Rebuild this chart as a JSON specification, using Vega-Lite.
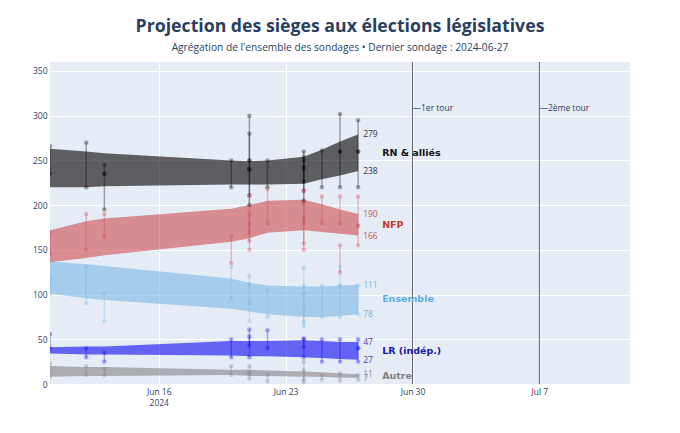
{
  "$schema": "https://vega.github.io/schema/vega-lite/v6.json",
  "width": 580,
  "height": 322,
  "autosize": {"type": "none"},
  "padding": {"left": 50, "top": 62, "right": 50, "bottom": 49},
  "background": "white",
  "title": {
    "text": "Projection des sièges aux élections législatives",
    "subtitle": "Agrégation de l'ensemble des sondages • Dernier sondage : 2024-06-27",
    "font": "Open Sans",
    "fontSize": 17.7,
    "fontWeight": "bold",
    "color": "#2a3f5f",
    "subtitleFont": "Open Sans",
    "subtitleFontSize": 10.2,
    "subtitleColor": "#2a3f5f",
    "subtitlePadding": 8,
    "anchor": "middle",
    "offset": 8
  },
  "config": {
    "view": {"fill": "#E5ECF6", "stroke": null},
    "axis": {
      "domain": false,
      "ticks": false,
      "gridColor": "white",
      "gridWidth": 1,
      "labelColor": "#2a3f5f",
      "labelFont": "Open Sans",
      "labelFontSize": 8.5
    }
  },
  "resolve": {"scale": {"color": "independent"}},
  "datasets": {
    "bands": [
      {"date": "2024-06-10", "party": "RN & alliés", "lo": 220, "hi": 263},
      {"date": "2024-06-12", "party": "RN & alliés", "lo": 220, "hi": 260},
      {"date": "2024-06-13", "party": "RN & alliés", "lo": 221, "hi": 258},
      {"date": "2024-06-20", "party": "RN & alliés", "lo": 223, "hi": 250},
      {"date": "2024-06-21", "party": "RN & alliés", "lo": 223, "hi": 249},
      {"date": "2024-06-22", "party": "RN & alliés", "lo": 223, "hi": 250},
      {"date": "2024-06-24", "party": "RN & alliés", "lo": 224, "hi": 254},
      {"date": "2024-06-25", "party": "RN & alliés", "lo": 229, "hi": 262},
      {"date": "2024-06-26", "party": "RN & alliés", "lo": 233, "hi": 271},
      {"date": "2024-06-27", "party": "RN & alliés", "lo": 238, "hi": 279},
      {"date": "2024-06-10", "party": "NFP", "lo": 136, "hi": 172},
      {"date": "2024-06-12", "party": "NFP", "lo": 141, "hi": 182},
      {"date": "2024-06-13", "party": "NFP", "lo": 144, "hi": 185},
      {"date": "2024-06-20", "party": "NFP", "lo": 159, "hi": 196},
      {"date": "2024-06-21", "party": "NFP", "lo": 163, "hi": 200},
      {"date": "2024-06-22", "party": "NFP", "lo": 169, "hi": 205},
      {"date": "2024-06-24", "party": "NFP", "lo": 172, "hi": 206},
      {"date": "2024-06-25", "party": "NFP", "lo": 170, "hi": 201},
      {"date": "2024-06-26", "party": "NFP", "lo": 168, "hi": 195},
      {"date": "2024-06-27", "party": "NFP", "lo": 166, "hi": 190},
      {"date": "2024-06-10", "party": "Ensemble", "lo": 101, "hi": 137},
      {"date": "2024-06-12", "party": "Ensemble", "lo": 96, "hi": 134},
      {"date": "2024-06-13", "party": "Ensemble", "lo": 94, "hi": 132},
      {"date": "2024-06-20", "party": "Ensemble", "lo": 84, "hi": 118},
      {"date": "2024-06-21", "party": "Ensemble", "lo": 81, "hi": 113},
      {"date": "2024-06-22", "party": "Ensemble", "lo": 78, "hi": 110},
      {"date": "2024-06-24", "party": "Ensemble", "lo": 75, "hi": 109},
      {"date": "2024-06-25", "party": "Ensemble", "lo": 75, "hi": 109},
      {"date": "2024-06-26", "party": "Ensemble", "lo": 76, "hi": 110},
      {"date": "2024-06-27", "party": "Ensemble", "lo": 78, "hi": 111},
      {"date": "2024-06-10", "party": "LR (indép.)", "lo": 34, "hi": 41},
      {"date": "2024-06-12", "party": "LR (indép.)", "lo": 33, "hi": 42},
      {"date": "2024-06-13", "party": "LR (indép.)", "lo": 33, "hi": 42},
      {"date": "2024-06-20", "party": "LR (indép.)", "lo": 32, "hi": 48},
      {"date": "2024-06-21", "party": "LR (indép.)", "lo": 31, "hi": 48},
      {"date": "2024-06-22", "party": "LR (indép.)", "lo": 31, "hi": 48},
      {"date": "2024-06-24", "party": "LR (indép.)", "lo": 30, "hi": 49},
      {"date": "2024-06-25", "party": "LR (indép.)", "lo": 29, "hi": 48},
      {"date": "2024-06-26", "party": "LR (indép.)", "lo": 28, "hi": 47},
      {"date": "2024-06-27", "party": "LR (indép.)", "lo": 27, "hi": 47},
      {"date": "2024-06-10", "party": "Autre", "lo": 8, "hi": 20},
      {"date": "2024-06-12", "party": "Autre", "lo": 9, "hi": 19},
      {"date": "2024-06-13", "party": "Autre", "lo": 9, "hi": 19},
      {"date": "2024-06-20", "party": "Autre", "lo": 10, "hi": 16},
      {"date": "2024-06-21", "party": "Autre", "lo": 9, "hi": 16},
      {"date": "2024-06-22", "party": "Autre", "lo": 9, "hi": 15},
      {"date": "2024-06-24", "party": "Autre", "lo": 8, "hi": 14},
      {"date": "2024-06-25", "party": "Autre", "lo": 8, "hi": 13},
      {"date": "2024-06-26", "party": "Autre", "lo": 7, "hi": 12},
      {"date": "2024-06-27", "party": "Autre", "lo": 7, "hi": 11}
    ],
    "polls": [
      {"date": "2024-06-10", "party": "RN & alliés", "lo": 235, "hi": 266},
      {"date": "2024-06-12", "party": "RN & alliés", "lo": 220, "hi": 270},
      {"date": "2024-06-13", "party": "RN & alliés", "lo": 195, "hi": 245},
      {"date": "2024-06-13", "party": "RN & alliés", "lo": 235, "hi": 235},
      {"date": "2024-06-20", "party": "RN & alliés", "lo": 220, "hi": 250},
      {"date": "2024-06-21", "party": "RN & alliés", "lo": 250, "hi": 300},
      {"date": "2024-06-21", "party": "RN & alliés", "lo": 240, "hi": 280},
      {"date": "2024-06-21", "party": "RN & alliés", "lo": 200, "hi": 250},
      {"date": "2024-06-21", "party": "RN & alliés", "lo": 211, "hi": 240},
      {"date": "2024-06-22", "party": "RN & alliés", "lo": 220, "hi": 250},
      {"date": "2024-06-24", "party": "RN & alliés", "lo": 216, "hi": 260},
      {"date": "2024-06-24", "party": "RN & alliés", "lo": 226, "hi": 250},
      {"date": "2024-06-24", "party": "RN & alliés", "lo": 205, "hi": 243},
      {"date": "2024-06-24", "party": "RN & alliés", "lo": 240, "hi": 254},
      {"date": "2024-06-25", "party": "RN & alliés", "lo": 220, "hi": 261},
      {"date": "2024-06-26", "party": "RN & alliés", "lo": 220, "hi": 302},
      {"date": "2024-06-26", "party": "RN & alliés", "lo": 260, "hi": 260},
      {"date": "2024-06-27", "party": "RN & alliés", "lo": 220, "hi": 295},
      {"date": "2024-06-27", "party": "RN & alliés", "lo": 260, "hi": 260},
      {"date": "2024-06-10", "party": "NFP", "lo": 145, "hi": 170},
      {"date": "2024-06-12", "party": "NFP", "lo": 150, "hi": 190},
      {"date": "2024-06-13", "party": "NFP", "lo": 165, "hi": 190},
      {"date": "2024-06-20", "party": "NFP", "lo": 135, "hi": 165},
      {"date": "2024-06-21", "party": "NFP", "lo": 170, "hi": 210},
      {"date": "2024-06-21", "party": "NFP", "lo": 160, "hi": 190},
      {"date": "2024-06-21", "party": "NFP", "lo": 150, "hi": 180},
      {"date": "2024-06-22", "party": "NFP", "lo": 180, "hi": 218},
      {"date": "2024-06-24", "party": "NFP", "lo": 180, "hi": 216},
      {"date": "2024-06-24", "party": "NFP", "lo": 157, "hi": 201},
      {"date": "2024-06-24", "party": "NFP", "lo": 150, "hi": 186},
      {"date": "2024-06-25", "party": "NFP", "lo": 180, "hi": 210},
      {"date": "2024-06-26", "party": "NFP", "lo": 180, "hi": 210},
      {"date": "2024-06-26", "party": "NFP", "lo": 125, "hi": 155},
      {"date": "2024-06-27", "party": "NFP", "lo": 155, "hi": 210},
      {"date": "2024-06-27", "party": "NFP", "lo": 177, "hi": 177},
      {"date": "2024-06-10", "party": "Ensemble", "lo": 100, "hi": 118},
      {"date": "2024-06-12", "party": "Ensemble", "lo": 90, "hi": 131},
      {"date": "2024-06-13", "party": "Ensemble", "lo": 70, "hi": 101},
      {"date": "2024-06-20", "party": "Ensemble", "lo": 95, "hi": 131},
      {"date": "2024-06-21", "party": "Ensemble", "lo": 90, "hi": 121},
      {"date": "2024-06-21", "party": "Ensemble", "lo": 70, "hi": 112},
      {"date": "2024-06-22", "party": "Ensemble", "lo": 75, "hi": 105},
      {"date": "2024-06-24", "party": "Ensemble", "lo": 86, "hi": 130},
      {"date": "2024-06-24", "party": "Ensemble", "lo": 65, "hi": 100},
      {"date": "2024-06-24", "party": "Ensemble", "lo": 69, "hi": 110},
      {"date": "2024-06-25", "party": "Ensemble", "lo": 75, "hi": 110},
      {"date": "2024-06-26", "party": "Ensemble", "lo": 75, "hi": 131},
      {"date": "2024-06-26", "party": "Ensemble", "lo": 110, "hi": 110},
      {"date": "2024-06-27", "party": "Ensemble", "lo": 78, "hi": 110},
      {"date": "2024-06-10", "party": "LR (indép.)", "lo": 40, "hi": 56},
      {"date": "2024-06-12", "party": "LR (indép.)", "lo": 30, "hi": 40},
      {"date": "2024-06-13", "party": "LR (indép.)", "lo": 25, "hi": 35},
      {"date": "2024-06-20", "party": "LR (indép.)", "lo": 30, "hi": 50},
      {"date": "2024-06-21", "party": "LR (indép.)", "lo": 43, "hi": 61},
      {"date": "2024-06-21", "party": "LR (indép.)", "lo": 30, "hi": 53},
      {"date": "2024-06-22", "party": "LR (indép.)", "lo": 40, "hi": 60},
      {"date": "2024-06-24", "party": "LR (indép.)", "lo": 30, "hi": 51},
      {"date": "2024-06-24", "party": "LR (indép.)", "lo": 41, "hi": 50},
      {"date": "2024-06-25", "party": "LR (indép.)", "lo": 25, "hi": 50},
      {"date": "2024-06-26", "party": "LR (indép.)", "lo": 25, "hi": 50},
      {"date": "2024-06-27", "party": "LR (indép.)", "lo": 25, "hi": 50},
      {"date": "2024-06-27", "party": "LR (indép.)", "lo": 40, "hi": 40},
      {"date": "2024-06-10", "party": "Autre", "lo": 8, "hi": 23},
      {"date": "2024-06-12", "party": "Autre", "lo": 10, "hi": 20},
      {"date": "2024-06-13", "party": "Autre", "lo": 10, "hi": 17},
      {"date": "2024-06-20", "party": "Autre", "lo": 10, "hi": 20},
      {"date": "2024-06-21", "party": "Autre", "lo": 12, "hi": 20},
      {"date": "2024-06-21", "party": "Autre", "lo": 6, "hi": 12},
      {"date": "2024-06-22", "party": "Autre", "lo": 3, "hi": 10},
      {"date": "2024-06-24", "party": "Autre", "lo": 2, "hi": 25},
      {"date": "2024-06-24", "party": "Autre", "lo": 5, "hi": 15},
      {"date": "2024-06-25", "party": "Autre", "lo": 5, "hi": 10},
      {"date": "2024-06-26", "party": "Autre", "lo": 4, "hi": 12},
      {"date": "2024-06-27", "party": "Autre", "lo": 5, "hi": 10}
    ],
    "rounds": [
      {"date": "2024-06-30", "label": "—1er tour"},
      {"date": "2024-07-07", "label": "—2ème tour"}
    ]
  },
  "layer": [
    {
      "data": {"name": "bands"},
      "mark": {"type": "area", "interpolate": "linear", "opacity": 0.6, "clip": true},
      "encoding": {
        "x": {
          "field": "date",
          "type": "temporal",
          "title": null,
          "scale": {
            "type": "utc",
            "domain": [
              {"year": 2024, "month": 6, "date": 10, "utc": true},
              {"year": 2024, "month": 7, "date": 12, "utc": true}
            ]
          },
          "axis": {
            "values": [
              {"year": 2024, "month": 6, "date": 16, "utc": true},
              {"year": 2024, "month": 6, "date": 23, "utc": true},
              {"year": 2024, "month": 6, "date": 30, "utc": true},
              {"year": 2024, "month": 7, "date": 7, "utc": true}
            ],
            "labelExpr": "utcdate(datum.value) == 16 ? [utcFormat(datum.value, '%b %-d'), '2024'] : utcFormat(datum.value, '%b %-d')",
            "labelPadding": 3,
            "labelLineHeight": 11
          }
        },
        "y": {
          "field": "lo",
          "type": "quantitative",
          "title": null,
          "scale": {"domain": [0, 360], "nice": false, "zero": true},
          "axis": {"values": [0, 50, 100, 150, 200, 250, 300, 350], "labelPadding": 3}
        },
        "y2": {"field": "hi"},
        "color": {
          "field": "party",
          "type": "nominal",
          "legend": null,
          "scale": {
            "domain": ["RN & alliés", "NFP", "Ensemble", "LR (indép.)", "Autre"],
            "range": ["#000000", "#cc4c4e", "#7ab8e4", "#0c08f4", "#838387"]
          }
        }
      }
    },
    {
      "data": {"name": "polls"},
      "mark": {"type": "rule", "strokeWidth": 1.5, "opacity": 0.33, "clip": true},
      "encoding": {
        "x": {"field": "date", "type": "temporal", "title": null},
        "y": {"field": "lo", "type": "quantitative", "title": null},
        "y2": {"field": "hi"},
        "color": {
          "field": "party",
          "type": "nominal",
          "legend": null,
          "scale": {
            "domain": ["RN & alliés", "NFP", "Ensemble", "LR (indép.)", "Autre"],
            "range": ["#000000", "#cc4c4e", "#7ab8e4", "#0c08f4", "#838387"]
          }
        }
      }
    },
    {
      "data": {"name": "polls"},
      "transform": [{"fold": ["lo", "hi"], "as": ["end", "value"]}],
      "mark": {"type": "point", "filled": true, "size": 20, "opacity": 0.33, "clip": true},
      "encoding": {
        "x": {"field": "date", "type": "temporal", "title": null},
        "y": {"field": "value", "type": "quantitative", "title": null},
        "color": {
          "field": "party",
          "type": "nominal",
          "legend": null,
          "scale": {
            "domain": ["RN & alliés", "NFP", "Ensemble", "LR (indép.)", "Autre"],
            "range": ["#000000", "#cc4c4e", "#7ab8e4", "#0c08f4", "#838387"]
          }
        }
      }
    },
    {
      "mark": {"type": "rule", "strokeDash": [7, 6], "strokeWidth": 1.2, "color": "#444"},
      "encoding": {"y": {"datum": 289, "type": "quantitative"}}
    },
    {
      "mark": {"type": "rule", "strokeWidth": 1, "color": "#444"},
      "encoding": {
        "x": {"datum": {"year": 2024, "month": 6, "date": 25, "hours": 1, "utc": true}, "type": "temporal"},
        "y": {"datum": 289, "type": "quantitative"},
        "y2": {"datum": 305}
      }
    },
    {
      "mark": {"type": "text", "font": "Open Sans", "fontSize": 8.3, "color": "#2a3f5f", "baseline": "bottom", "dy": -1},
      "encoding": {
        "x": {"datum": {"year": 2024, "month": 6, "date": 25, "hours": 1, "utc": true}, "type": "temporal"},
        "y": {"datum": 305, "type": "quantitative"},
        "text": {"value": "Majorité absolue"}
      }
    },
    {
      "data": {"name": "rounds"},
      "mark": {"type": "rule", "strokeWidth": 1, "color": "#555", "opacity": 0.9},
      "encoding": {"x": {"field": "date", "type": "temporal", "title": null}}
    },
    {
      "data": {"name": "rounds"},
      "mark": {"type": "text", "font": "Open Sans", "fontSize": 8.5, "color": "#2a3f5f", "align": "left", "baseline": "middle", "dx": 0},
      "encoding": {
        "x": {"field": "date", "type": "temporal", "title": null},
        "y": {"datum": 309, "type": "quantitative"},
        "text": {"field": "label"}
      }
    },
    {
      "data": {"name": "bands"},
      "transform": [
        {"filter": "time(datum.date) == utc(2024, 5, 27)"},
        {"fold": ["lo", "hi"], "as": ["end", "value"]}
      ],
      "mark": {"type": "text", "font": "Open Sans", "fontSize": 8.5, "align": "left", "baseline": "middle", "dx": 5, "opacity": 0.85},
      "encoding": {
        "x": {"field": "date", "type": "temporal", "title": null},
        "y": {"field": "value", "type": "quantitative", "title": null},
        "text": {"field": "value", "type": "quantitative"},
        "color": {
          "field": "party",
          "type": "nominal",
          "legend": null,
          "scale": {
            "domain": ["RN & alliés", "NFP", "Ensemble", "LR (indép.)", "Autre"],
            "range": ["#111111", "#c0392b", "#5dade2", "#1a1aa8", "#7f7f7f"]
          }
        }
      }
    },
    {
      "data": {"name": "bands"},
      "transform": [
        {"filter": "time(datum.date) == utc(2024, 5, 27)"},
        {"fold": ["lo", "hi"], "as": ["end", "value"]}
      ],
      "mark": {"type": "text", "font": "DejaVu Sans", "fontWeight": "bold", "fontSize": 9.5, "align": "left", "baseline": "middle", "dx": 24},
      "encoding": {
        "x": {"field": "date", "type": "temporal", "title": null},
        "y": {"aggregate": "mean", "field": "value", "type": "quantitative", "title": null},
        "text": {"field": "party", "type": "nominal"},
        "color": {
          "field": "party",
          "type": "nominal",
          "legend": null,
          "scale": {
            "domain": ["RN & alliés", "NFP", "Ensemble", "LR (indép.)", "Autre"],
            "range": ["#111111", "#c0392b", "#5dade2", "#1a1aa8", "#7f7f7f"]
          }
        }
      }
    }
  ]
}
